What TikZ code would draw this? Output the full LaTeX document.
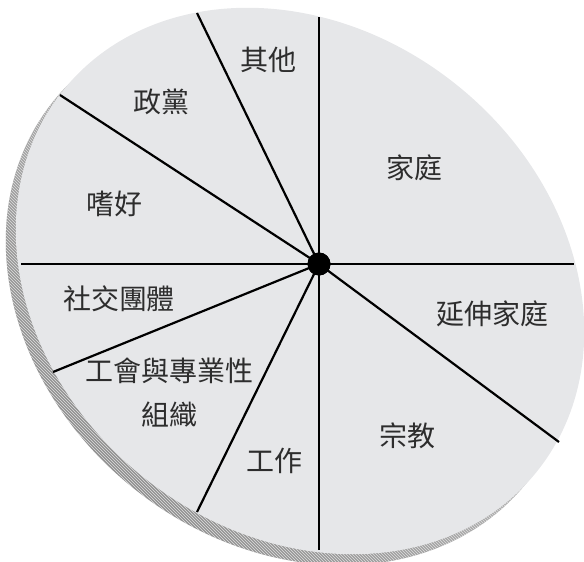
\documentclass[tikz,border=0pt]{standalone}
\usepackage{fontspec}
\newfontfamily\cjk{Noto Sans CJK TC}
\usetikzlibrary{patterns}
\definecolor{disc}{RGB}{230,231,233}
\definecolor{ink}{RGB}{45,45,45}
\begin{document}
\begin{tikzpicture}[x=1pt,y=-1pt,
  spoke/.style={line width=2.2pt, black},
  lbl/.style={font=\cjk\fontsize{28}{44}\selectfont, text=ink, inner sep=0pt, align=center}]
\useasboundingbox (0,0) rectangle (584,562);
% shadow edge of the disc
\begin{scope}
  \clip[rotate around={-39:(290,292)}] (290,292) ellipse [x radius=304, y radius=251];
  \shade[top color=gray!35, bottom color=gray!90, shading angle=-45] (0,0) rectangle (584,562);
  \fill[pattern=north west lines, pattern color=white!75!gray] (0,0) rectangle (584,562);
\end{scope}
% disc face
\fill[disc, rotate around={-39:(300,281)}] (300,281) ellipse [x radius=304, y radius=251];
% spokes
\node[circle, fill=black, inner sep=0pt, minimum size=23pt] (c) at (319,264) {};
\coordinate (eTop) at (319,17);
\coordinate (eBot) at (319,550);
\coordinate (eL) at (21,264);
\coordinate (eR) at (574,264);
\coordinate (eA) at (197,13);
\coordinate (eB) at (60,95);
\coordinate (eC) at (53,372);
\coordinate (eD) at (197,512);
\coordinate (eE) at (559,442);
\foreach \e in {eTop,eBot,eL,eR,eA,eB,eC,eD,eE} \draw[spoke] (c.center) -- (\e);
\node[circle, fill=black, inner sep=0pt, minimum size=23pt] at (c) {};
% labels
\node[lbl] (qita) at (268.5,60) {其他};
\node[lbl] (zhengdang) at (161,102) {政黨};
\node[lbl] (jiating) at (414,168) {家庭};
\node[lbl] (shihao) at (114,204) {嗜好};
\node[lbl] (shejiao) at (119,299) {社交團體};
\node[lbl] (yanshen) at (492,314) {延伸家庭};
\node[lbl] (gonghui) at (169,393) {工會與專業性\\組織};
\node[lbl] (zongjiao) at (407,436) {宗教};
\node[lbl] (gongzuo) at (274,461) {工作};
\end{tikzpicture}
\end{document}
